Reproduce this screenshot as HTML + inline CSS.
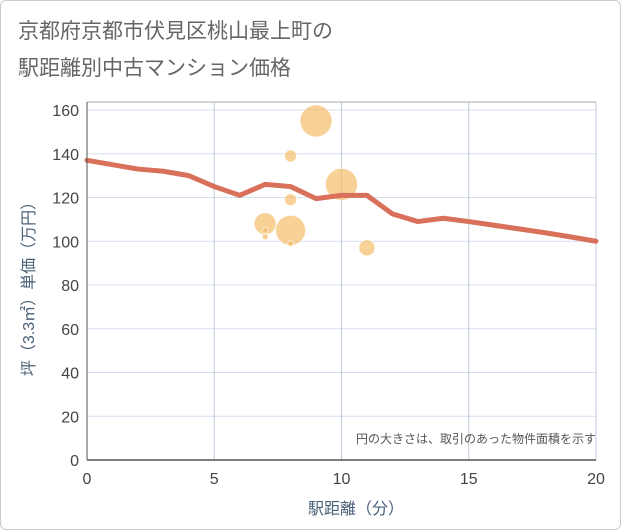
<!DOCTYPE html>
<html><head><meta charset="utf-8"><style>
body{margin:0;background:#fff;font-family:"Liberation Sans","Noto Sans CJK JP",sans-serif;}
#wrap{position:relative;width:619px;height:528px;border:1px solid #ccc;border-radius:6px;background:#fff;}
</style></head><body>
<div id="wrap">
<svg id="chart" width="621" height="530" style="position:absolute;left:-1px;top:-1px">
<text x="18" y="38" font-size="21" fill="#666" font-family="Liberation Sans, Noto Sans CJK JP, sans-serif">京都府京都市伏見区桃山最上町の</text>
<text x="18" y="75" font-size="21" fill="#666" font-family="Liberation Sans, Noto Sans CJK JP, sans-serif">駅距離別中古マンション価格</text>
<g id="grid"></g><g id="marks"></g><g id="axes"></g>
<text x="596" y="443" font-size="12" fill="#555" text-anchor="end" font-family="Liberation Sans, Noto Sans CJK JP, sans-serif">円の大きさは、取引のあった物件面積を示す</text>
<text x="356" y="514" font-size="16" fill="#4a6078" text-anchor="middle" font-family="Liberation Sans, Noto Sans CJK JP, sans-serif">駅距離（分）</text>
<text transform="translate(34,285) rotate(-90)" font-size="16" fill="#4a6078" text-anchor="middle" font-family="Liberation Sans, Noto Sans CJK JP, sans-serif">坪（3.3㎡）単価（万円）</text>
</svg></div>
<script>
const xTicks=[0,5,10,15,20];
const yTicks=[0,20,40,60,80,100,120,140,160];
const lineX=[0,1,2,3,4,5,6,7,8,9,10,11,12,13,14,15,16,17,18,19,20];
const lineY=[137,135,133,132,130,125,121,126,125,119.5,121,121,112.5,109,110.5,109,107.3,105.6,103.9,102,100];
const bubX=[9,8,10,8,7,7,7,8,8,11];
const bubY=[155,139,126,119,108,105,102,105,99,97];
const bubR=[16,6,16,6,11,3,3,15,3,8];
const L=87,R=596,T=110,B=460;
const sx=v=>L+(v-0)/(20-0)*(R-L);
const sy=v=>B-(v-0)/(160-0)*(B-T);
const NS='http://www.w3.org/2000/svg';
function mk(tag,attrs,parent){const e=document.createElementNS(NS,tag);for(const k in attrs)e.setAttribute(k,attrs[k]);parent.appendChild(e);return e;}
const grid=document.getElementById('grid'),marks=document.getElementById('marks'),axes=document.getElementById('axes');
yTicks.forEach(v=>{
 const l=mk('line',{x1:L,x2:R,y1:sy(v),y2:sy(v),stroke:'#d5dff0','stroke-width':1},grid);
 
 
 const t=mk('text',{x:L-8,y:sy(v)+6,'font-size':16,fill:'#444','text-anchor':'end'},axes);
 t.textContent=v;
 
 
});
xTicks.forEach(v=>{
 const l=mk('line',{x1:sx(v),x2:sx(v),y1:T-8,y2:B,stroke:'#c0cad8','stroke-width':1},grid);
 
 
 const t=mk('text',{x:sx(v),y:B+24,'font-size':16,fill:'#444','text-anchor':'middle'},axes);
 t.textContent=v;
 
 
});
const topBorder=mk('line',{x1:L,x2:R,y1:T-8,y2:T-8,stroke:'#aaa'},axes);


const ax=mk('line',{x1:L,x2:R,y1:B,y2:B,stroke:'#555','stroke-width':1.5},axes);


const ay=mk('line',{x1:L,x2:L,y1:T-8,y2:B,stroke:'#555','stroke-width':1},axes);


bubX.forEach((x,i)=>{
 const c=mk('circle',{cx:sx(x),cy:sy(bubY[i]),r:bubR[i],fill:'rgba(243,190,105,0.7)',stroke:'rgba(255,255,255,0.6)','stroke-width':1},marks);
 
 
});
const p=mk('polyline',{points:lineX.map((x,i)=>sx(x)+','+sy(lineY[i])).join(' '),fill:'none',stroke:'#d9705a','stroke-width':5,'stroke-linejoin':'round','stroke-linecap':'round'},marks);


</script>
</body></html>
